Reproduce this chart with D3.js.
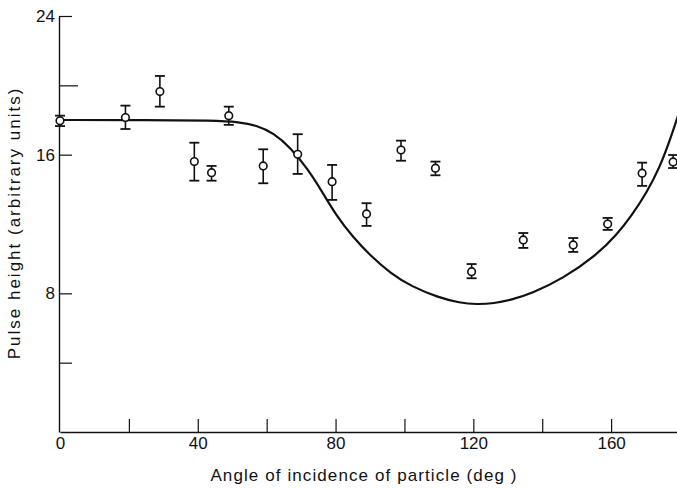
<!DOCTYPE html>
<html>
<head>
<meta charset="utf-8">
<script src="https://cdn.jsdelivr.net/npm/d3@7"></script>
<style>
  body { margin: 0; background: #fff; }
  svg { display: block; }
  text { font-family: "Liberation Sans", "DejaVu Sans", sans-serif; fill: #111; }
</style>
</head>
<body>
<script>
// measured points
var angles   = [0, 19, 29, 39, 44, 49, 59, 69, 79, 89, 99, 109, 119.5, 134.5, 149, 159, 169, 178];
var pulse    = [17.95, 18.14, 19.64, 15.60, 14.96, 18.25, 15.35, 16.02, 14.44, 12.58, 16.27, 15.22, 9.25, 11.08, 10.79, 12.00, 14.93, 15.58];
var errLow   = [17.65, 17.48, 18.77, 14.50, 14.50, 17.72, 14.35, 14.89, 13.39, 11.89, 15.65, 14.81, 8.87, 10.62, 10.39, 11.66, 14.20, 15.23];
var errHigh  = [18.25, 18.83, 20.54, 16.69, 15.35, 18.77, 16.31, 17.18, 15.41, 13.20, 16.81, 15.60, 9.69, 11.48, 11.19, 12.35, 15.54, 15.98];

// theoretical curve
var curveAngle = [0, 25, 45, 52, 57, 62, 67, 72, 76, 80, 85, 90, 96, 102, 110, 116, 121, 126, 131, 137, 146, 155.8, 161.6, 166, 170.3, 174.2, 177.1, 179.5];
var curveValue = [18.0, 18.0, 17.97, 17.88, 17.7, 17.25, 16.4, 15.15, 13.9, 12.55, 11.25, 10.2, 9.15, 8.4, 7.75, 7.45, 7.36, 7.42, 7.62, 8.0, 8.85, 10.21, 11.37, 12.5, 13.8, 15.3, 16.85, 18.3];

var xTicks = [0, 20, 40, 60, 80, 100, 120, 140, 160];
var yTicks = [4, 8, 16, 20, 24];

var width = 677, height = 488;

var svg = d3.select("body").append("svg")
    .attr("width", width)
    .attr("height", height);

var x = d3.scaleLinear().domain([0, 180]).range([60, 680]);
var y = d3.scaleLinear().domain([0, 24]).range([432, 16]);

// x axis
var xAxis = svg.append("g")
    .attr("transform", "translate(0,432)")
    .call(d3.axisBottom(x)
        .tickValues(xTicks)
        .tickSizeInner(-13)
        .tickSizeOuter(0)
        .tickPadding(5)
        .tickFormat(d => d % 40 === 0 ? d : ""));
xAxis.selectAll("line").attr("stroke", "#111").attr("stroke-width", 1.2);
xAxis.select(".domain").attr("stroke", "#111").attr("stroke-width", 1.4);
xAxis.selectAll(".tick").filter(d => d === 0).select("line").remove();
xAxis.selectAll("text").attr("font-size", 17);

// y axis
var yAxis = svg.append("g")
    .attr("transform", "translate(59,0)")
    .call(d3.axisLeft(y)
        .tickValues(yTicks)
        .tickSizeInner(-13)
        .tickSizeOuter(0)
        .tickPadding(4)
        .tickFormat(d => d % 8 === 0 ? d : ""));
yAxis.selectAll("line").attr("stroke", "#111").attr("stroke-width", 1.2);
yAxis.select(".domain").attr("stroke", "#111").attr("stroke-width", 1.4);
yAxis.selectAll(".tick").filter(d => d === 20).select("line").attr("x2", 19);
yAxis.selectAll("text").attr("font-size", 17);

// curve
var line = d3.line()
    .x(d => x(d[0]))
    .y(d => y(d[1]))
    .curve(d3.curveBasis);

svg.append("path")
    .datum(curveAngle.map((a, i) => [a, curveValue[i]]))
    .attr("d", line)
    .attr("fill", "none")
    .attr("stroke", "#111")
    .attr("stroke-width", 2.2);

// error bars and points
var pts = angles.map((a, i) => ({a: a, v: pulse[i], lo: errLow[i], hi: errHigh[i]}));

var g = svg.selectAll(".pt")
    .data(pts)
    .enter()
    .append("g")
    .attr("class", "pt");

g.append("line")
    .attr("x1", d => x(d.a)).attr("x2", d => x(d.a))
    .attr("y1", d => y(d.lo)).attr("y2", d => y(d.hi))
    .attr("stroke", "#111").attr("stroke-width", 1.6);

g.append("line")
    .attr("x1", d => x(d.a) - 5).attr("x2", d => x(d.a) + 5)
    .attr("y1", d => y(d.hi)).attr("y2", d => y(d.hi))
    .attr("stroke", "#111").attr("stroke-width", 1.8);

g.append("line")
    .attr("x1", d => x(d.a) - 5).attr("x2", d => x(d.a) + 5)
    .attr("y1", d => y(d.lo)).attr("y2", d => y(d.lo))
    .attr("stroke", "#111").attr("stroke-width", 1.8);

g.append("circle")
    .attr("cx", d => x(d.a))
    .attr("cy", d => y(d.v))
    .attr("r", 3.8)
    .attr("fill", "#fff")
    .attr("stroke", "#111")
    .attr("stroke-width", 1.6);

// axis titles
svg.append("text")
    .attr("x", 364)
    .attr("y", 481)
    .attr("text-anchor", "middle")
    .attr("font-size", 17)
    .attr("letter-spacing", 1.1)
    .text("Angle of incidence of particle (deg )");

svg.append("text")
    .attr("transform", "translate(20,223) rotate(-90)")
    .attr("text-anchor", "middle")
    .attr("font-size", 17)
    .attr("letter-spacing", 2)
    .text("Pulse height (arbitrary units)");
</script>
</body>
</html>
